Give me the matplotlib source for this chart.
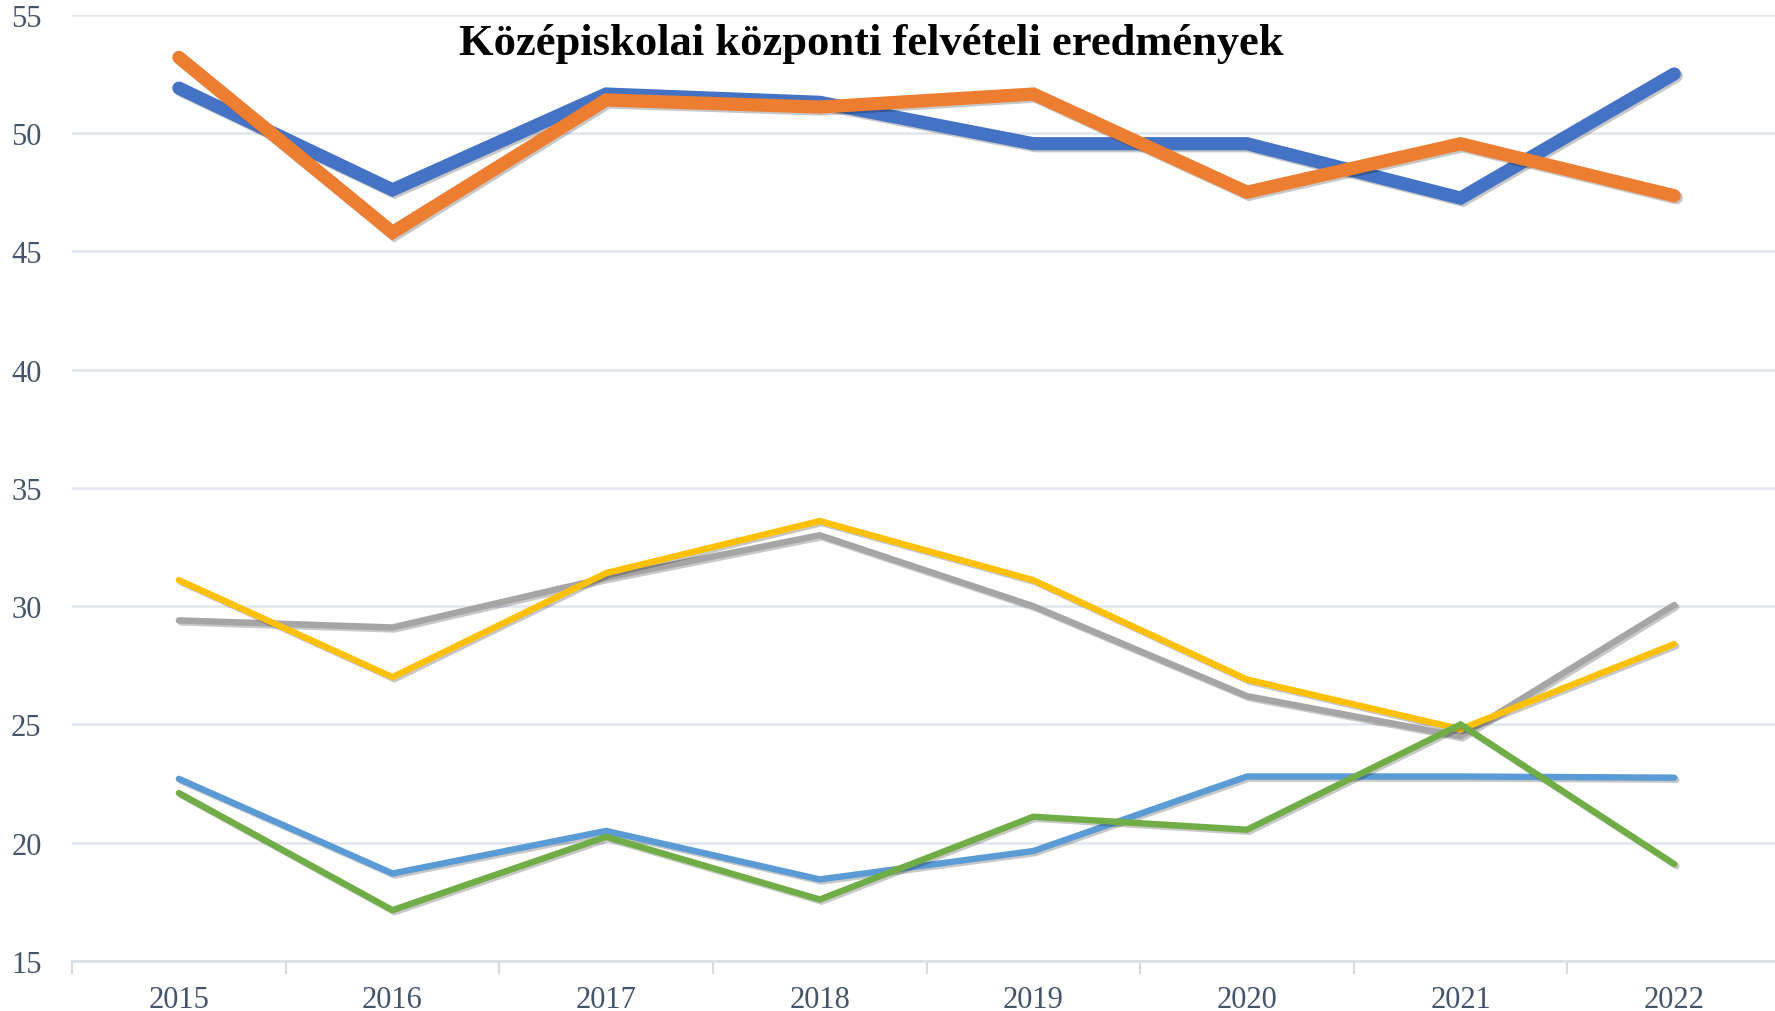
import matplotlib
matplotlib.use("Agg")
import matplotlib.pyplot as plt
import matplotlib.patheffects as pe

years = ["2015", "2016", "2017", "2018", "2019", "2020", "2021", "2022"]

# két vastag sorozat felül
s1 = [51.9, 47.6, 51.65, 51.3, 49.55, 49.55, 47.25, 52.5]
s2 = [53.2, 45.8, 51.4, 51.1, 51.65, 47.5, 49.55, 47.35]
# középső sáv
s3 = [29.4, 29.1, 31.2, 33.0, 30.0, 26.2, 24.5, 30.05]
s4 = [31.1, 27.0, 31.4, 33.6, 31.1, 26.9, 24.8, 28.4]
# alsó sáv
s5 = [22.7, 18.7, 20.5, 18.45, 19.65, 22.8, 22.8, 22.75]
s6 = [22.1, 17.15, 20.25, 17.6, 21.1, 20.55, 25.0, 19.1]

yticks = [15, 20, 25, 30, 35, 40, 45, 50, 55]

series = [
    (s1, "#4472C4", 9.5),
    (s2, "#ED7D31", 9.5),
    (s3, "#A5A5A5", 4.6),
    (s4, "#FFC000", 4.6),
    (s5, "#5B9BD5", 4.6),
    (s6, "#70AD47", 4.6),
]

fig = plt.figure(figsize=(17.75, 10.12), dpi=100)
ax = fig.add_axes([0.0406, 0.0494, 0.9628, 0.935])

x = list(range(len(years)))
shadow = [pe.SimpleLineShadow(offset=(1.5, -1.5), shadow_color="k", alpha=0.22),
          pe.Normal()]
for vals, col, lw in series:
    ax.plot(x, vals, color=col, lw=lw, solid_capstyle="round",
            solid_joinstyle="miter", path_effects=shadow, zorder=3)

ax.set_xlim(-0.5, len(years) - 0.5)
ax.set_ylim(15, 55)
ax.set_yticks(yticks)
ax.set_yticklabels([str(v) for v in yticks])

# kategória-határoknál kis jelölők, a címkék középen
ax.set_xticks([i - 0.5 for i in range(len(years) + 1)])
ax.set_xticklabels([])
ax.set_xticks(x, minor=True)
ax.set_xticklabels(years, minor=True)
ax.tick_params(axis="x", which="major", length=9, width=1.5, color="#D9D9D9")
ax.tick_params(axis="x", which="minor", length=0, pad=17)
ax.tick_params(axis="y", length=0, pad=22)
for lab in ax.get_xticklabels(minor=True) + ax.get_yticklabels():
    lab.set_fontfamily("Liberation Serif")
    lab.set_fontsize(22)
    lab.set_color("#44546A")

ax.grid(axis="y", color="#E1E5EC", lw=1.8, zorder=0)
ax.set_axisbelow(True)
for sp in ["top", "right", "left"]:
    ax.spines[sp].set_visible(False)
ax.spines["bottom"].set_color("#D9DEE6")
ax.spines["bottom"].set_linewidth(1.8)

fig.text(0.491, 0.957, "Középiskolai központi felvételi eredmények",
         ha="center", va="center", fontsize=32, fontweight="bold",
         fontfamily="Liberation Serif", color="black")

fig.savefig("out.png", dpi=100)
